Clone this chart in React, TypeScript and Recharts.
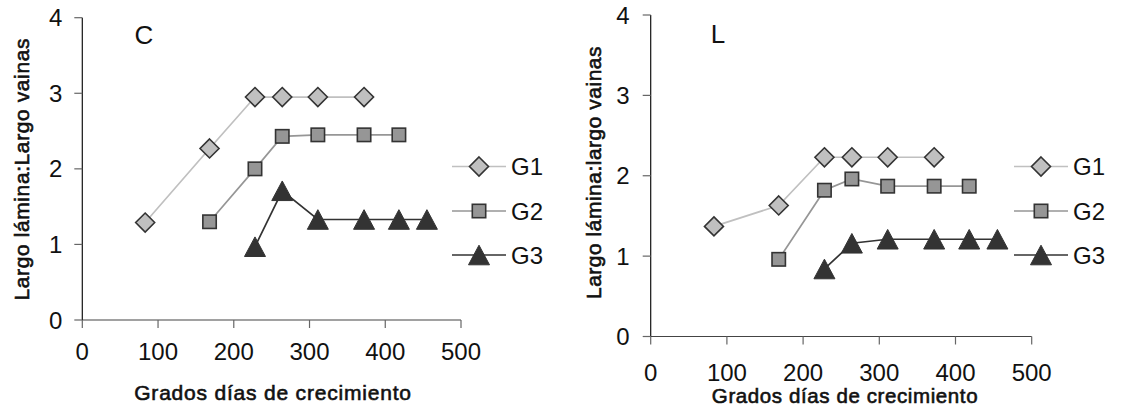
import React from 'react';
import { LineChart, Line, XAxis, YAxis, Legend } from 'recharts';

// Growing degree days at each sampling date (x values shared by both panels)
const g1Days = [83, 168, 228, 264, 311, 372];
const g2Days = [168, 228, 264, 311, 372, 418];
const g3Days = [228, 264, 311, 372, 418, 455];

// Panel C: blade length : sheath length
const cG1 = [1.29, 2.27, 2.95, 2.95, 2.95, 2.95];
const cG2 = [1.3, 2.0, 2.43, 2.45, 2.45, 2.45];
const cG3 = [0.97, 1.71, 1.33, 1.33, 1.33, 1.33];

// Panel L: blade length : sheath length
const lG1 = [1.37, 1.63, 2.23, 2.23, 2.23, 2.23];
const lG2 = [0.96, 1.82, 1.96, 1.87, 1.87, 1.87];
const lG3 = [0.84, 1.16, 1.21, 1.21, 1.21, 1.21];

const seriesNames = ['G1', 'G2', 'G3'];
const xTicks = [0, 100, 200, 300, 400, 500];
const yTicks = [0, 1, 2, 3, 4];

const FONT = '"Liberation Sans", Arial, sans-serif';

const toPoints = (xs: number[], ys: number[]) => xs.map((x, i) => ({ x, y: ys[i] }));

type Shape = 'diamond' | 'square' | 'triangle';

const STYLE: Record<string, { shape: Shape; line: string; fill: string }> = {
  G1: { shape: 'diamond', line: '#c0c0c0', fill: '#c0c0c0' },
  G2: { shape: 'square', line: '#969696', fill: '#969696' },
  G3: { shape: 'triangle', line: '#333333', fill: '#333333' },
};

function Marker({ shape, cx, cy, fill }: { shape: Shape; cx: number; cy: number; fill: string }) {
  if (shape === 'diamond') {
    const r = 9.5;
    return (
      <polygon
        points={`${cx},${cy - r} ${cx + r},${cy} ${cx},${cy + r} ${cx - r},${cy}`}
        fill={fill}
        stroke="#333"
        strokeWidth={1.6}
      />
    );
  }
  if (shape === 'square') {
    const h = 6.7;
    return <rect x={cx - h} y={cy - h} width={2 * h} height={2 * h} fill={fill} stroke="#333" strokeWidth={1.6} />;
  }
  const w = 10.5;
  const h = 9.8;
  return (
    <polygon
      points={`${cx},${cy - h} ${cx + w},${cy + h} ${cx - w},${cy + h}`}
      fill={fill}
      stroke="#333"
      strokeWidth={1}
    />
  );
}

const makeDot = (name: string) => (p: any) => (
  <g key={`${name}-${p.index}`}>
    <Marker shape={STYLE[name].shape} cx={p.cx} cy={p.cy} fill={STYLE[name].fill} />
  </g>
);

function LegendBox(props: any) {
  const payload = props.payload || [];
  const rows = [21.5, 66, 110];
  return (
    <svg width={110} height={130} style={{ display: 'block', overflow: 'visible' }}>
      {payload.map((entry: any, i: number) => {
        const name = String(entry.value);
        const st = STYLE[name];
        const y = rows[i];
        return (
          <g key={name}>
            <line x1={2} x2={56} y1={y} y2={y} stroke={st.line} strokeWidth={1.6} />
            <Marker shape={st.shape} cx={29} cy={y} fill={st.fill} />
            <text x={61} y={y + 8.6} fontSize={24} fontFamily={FONT} fill="#111">
              {name}
            </text>
          </g>
        );
      })}
    </svg>
  );
}

type PanelProps = {
  left: number;
  width: number;
  margin: { top: number; right: number; bottom: number; left: number };
  tickMarginX: number;
  tickMarginY: number;
  values: number[][];
};

function Panel({ left, width, margin, tickMarginX, tickMarginY, values }: PanelProps) {
  const days = [g1Days, g2Days, g3Days];
  return (
    <div style={{ position: 'absolute', left, top: 0 }}>
      <LineChart width={width} height={417} margin={margin}>
        <XAxis
          type="number"
          dataKey="x"
          domain={[0, 500]}
          ticks={xTicks}
          height={30}
          tickSize={8}
          tickMargin={tickMarginX}
          axisLine={{ stroke: '#444', strokeWidth: 1.2 }}
          tickLine={{ stroke: '#666', strokeWidth: 1.2 }}
          tick={{ fontSize: 24, fill: '#111', fontFamily: FONT }}
          allowDuplicatedCategory={false}
        />
        <YAxis
          type="number"
          dataKey="y"
          domain={[0, 4]}
          ticks={yTicks}
          width={40}
          tickSize={8}
          tickMargin={tickMarginY}
          axisLine={{ stroke: '#111', strokeWidth: 1.2 }}
          tickLine={{ stroke: '#666', strokeWidth: 1.2 }}
          tick={{ fontSize: 24, fill: '#111', fontFamily: FONT }}
        />
        {seriesNames.map((name, i) => (
          <Line
            key={name}
            name={name}
            data={toPoints(days[i], values[i])}
            dataKey="y"
            stroke={STYLE[name].line}
            strokeWidth={1.7}
            dot={makeDot(name)}
            activeDot={false}
            isAnimationActive={false}
          />
        ))}
        <Legend
          layout="horizontal"
          verticalAlign="middle"
          align="center"
          content={LegendBox}
          wrapperStyle={{ left: width - 112, top: 145, width: 110, height: 130 }}
        />
      </LineChart>
    </div>
  );
}

// Axis titles: regular face thickened with a thin outline, slightly tracked
const titleStyle = { stroke: '#111', strokeWidth: 0.6 } as const;

export default function App() {
  return (
    <div style={{ position: 'absolute', left: 0, top: 0, width: 1124, height: 417, background: '#fff' }}>
      <Panel
        left={0}
        width={562}
        margin={{ top: 17.7, right: 101, bottom: 67, left: 42.3 }}
        tickMarginX={15}
        tickMarginY={12}
        values={[cG1, cG2, cG3]}
      />
      <Panel
        left={562}
        width={562}
        margin={{ top: 15, right: 92.3, bottom: 50.5, left: 48.7 }}
        tickMarginX={19}
        tickMarginY={13}
        values={[lG1, lG2, lG3]}
      />
      <svg
        width={1124}
        height={417}
        style={{ position: 'absolute', left: 0, top: 0, pointerEvents: 'none' }}
        fontFamily={FONT}
        fill="#111"
      >
        <text x={144} y={43.7} fontSize={26} textAnchor="middle">C</text>
        <text x={718} y={43} fontSize={26} textAnchor="middle">L</text>
        <text x={273} y={400} fontSize={21} letterSpacing={0.8} textAnchor="middle" {...titleStyle}>
          Grados días de crecimiento
        </text>
        <text x={845} y={403} fontSize={20.5} letterSpacing={0.6} textAnchor="middle" {...titleStyle}>
          Grados días de crecimiento
        </text>
        <text
          transform="translate(28.5,169.2) rotate(-90)"
          fontSize={21}
          letterSpacing={0.6}
          textAnchor="middle"
          {...titleStyle}
        >
          Largo lámina:Largo vainas
        </text>
        <text
          transform="translate(600.7,172.5) rotate(-90)"
          fontSize={21}
          letterSpacing={0.5}
          textAnchor="middle"
          {...titleStyle}
        >
          Largo lámina:largo vainas
        </text>
      </svg>
    </div>
  );
}
